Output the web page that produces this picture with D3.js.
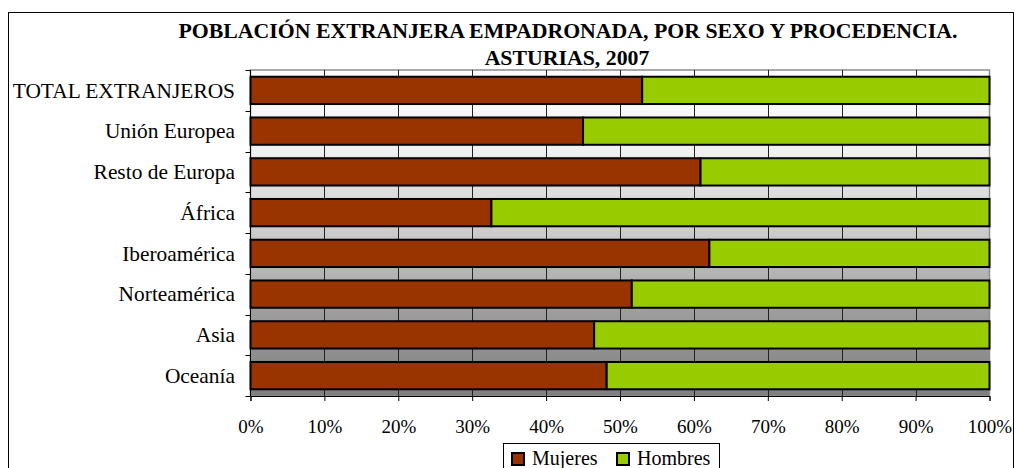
<!DOCTYPE html>
<html>
<head>
<meta charset="utf-8">
<script src="https://cdn.jsdelivr.net/npm/d3@7"></script>
<style>
  body { margin: 0; background: #fff; }
  text { font-family: "Liberation Serif", "Times New Roman", serif; fill: #000; }
</style>
</head>
<body>
<div id="chart"></div>
<script>
// data
var categories = ["TOTAL EXTRANJEROS", "Unión Europea", "Resto de Europa", "África",
  "Iberoamérica", "Norteamérica", "Asia", "Oceanía"];
var mujeres = [53.0, 45.0, 60.9, 32.6, 62.1, 51.6, 46.5, 48.2];
var hombres = [47.0, 55.0, 39.1, 67.4, 37.9, 48.4, 53.5, 51.8];
var seriesNames = ["Mujeres", "Hombres"];
var seriesColors = ["#993300", "#99cc00"];
var xTicks = [0, 0.1, 0.2, 0.3, 0.4, 0.5, 0.6, 0.7, 0.8, 0.9, 1];

// dimensions
var W = 1014, H = 468;
var plot = { left: 250.5, right: 989.5, top: 70, bottom: 396 };

var svg = d3.select("#chart").append("svg")
  .attr("width", W)
  .attr("height", H);

// outer chart border
svg.append("rect")
  .attr("x", 8.5).attr("y", 12.5)
  .attr("width", 1005).attr("height", 470)
  .attr("fill", "#fff").attr("stroke", "#000");

// title
var title = svg.append("text")
  .attr("text-anchor", "middle")
  .attr("font-weight", "bold")
  .attr("font-size", 21.8);
title.append("tspan").attr("x", 568).attr("y", 38)
  .text("POBLACIÓN EXTRANJERA EMPADRONADA, POR SEXO Y PROCEDENCIA.");
title.append("tspan").attr("x", 567).attr("y", 65)
  .text("ASTURIAS, 2007");

// scales
var x = d3.scaleLinear().domain([0, 1]).range([plot.left, plot.right]);
var y = d3.scaleBand().domain(categories)
  .range([plot.top, plot.bottom])
  .paddingInner(0.33).paddingOuter(0.165);
var yEdge = d3.scaleLinear().domain([0, categories.length]).range([plot.top, plot.bottom]);

// background gradient
var grad = svg.append("defs").append("linearGradient")
  .attr("id", "bg").attr("x1", 0).attr("y1", 0).attr("x2", 0).attr("y2", 1);
[[0, "#ffffff"], [0.25, "#f0f0f0"], [0.5, "#cbcbcb"], [0.75, "#9c9c9c"], [1, "#7f7f7f"]]
  .forEach(function (s) {
    grad.append("stop").attr("offset", s[0]).attr("stop-color", s[1]);
  });

svg.append("rect")
  .attr("x", plot.left).attr("y", plot.top)
  .attr("width", plot.right - plot.left).attr("height", plot.bottom - plot.top)
  .attr("fill", "url(#bg)")
  .attr("stroke", "#8c8c8c").attr("stroke-width", 1.5);

// vertical gridlines
svg.append("g").selectAll("line")
  .data(xTicks.slice(1, -1))
  .enter().append("line")
  .attr("x1", function (d) { return Math.round(x(d)) + 0.5; })
  .attr("x2", function (d) { return Math.round(x(d)) + 0.5; })
  .attr("y1", plot.top).attr("y2", plot.bottom)
  .attr("stroke", "#222").attr("stroke-width", 1);

// stacked bars
var rows = categories.map(function (c, i) {
  return { cat: c, Mujeres: mujeres[i] / 100, Hombres: hombres[i] / 100 };
});
var stacked = d3.stack().keys(seriesNames)(rows);

svg.append("g").selectAll("g")
  .data(stacked)
  .enter().append("g")
  .attr("fill", function (d, i) { return seriesColors[i]; })
  .selectAll("rect")
  .data(function (d) { return d; })
  .enter().append("rect")
  .attr("x", function (d) { return x(d[0]); })
  .attr("width", function (d) { return x(d[1]) - x(d[0]); })
  .attr("y", function (d) { return y(d.data.cat); })
  .attr("height", y.bandwidth())
  .attr("stroke", "#000").attr("stroke-width", 2);

// x axis
var xAxis = svg.append("g")
  .attr("transform", "translate(0," + plot.bottom + ")")
  .call(d3.axisBottom(x).tickValues(xTicks).tickFormat(d3.format(".0%"))
    .tickSize(5).tickPadding(19));
xAxis.select(".domain").attr("stroke", "#000");
xAxis.selectAll(".tick line").attr("stroke", "#000");
xAxis.selectAll("text")
  .attr("font-size", 19)
  .attr("font-family", "Liberation Serif, Times New Roman, serif");

// y axis: line, boundary ticks, labels
svg.append("line")
  .attr("x1", plot.left).attr("x2", plot.left)
  .attr("y1", plot.top).attr("y2", plot.bottom)
  .attr("stroke", "#000");
svg.append("g").selectAll("line")
  .data(d3.range(categories.length + 1))
  .enter().append("line")
  .attr("x1", plot.left - 5).attr("x2", plot.left)
  .attr("y1", function (d) { return Math.round(yEdge(d)) + 0.5; })
  .attr("y2", function (d) { return Math.round(yEdge(d)) + 0.5; })
  .attr("stroke", "#000");
svg.append("g").selectAll("text")
  .data(categories)
  .enter().append("text")
  .attr("x", 235)
  .attr("y", function (d) { return y(d) + y.bandwidth() / 2; })
  .attr("dy", "0.34em")
  .attr("text-anchor", "end")
  .attr("font-size", 21.4)
  .text(function (d) { return d; });

// legend
var legend = svg.append("g");
legend.append("rect")
  .attr("x", 503.5).attr("y", 443.5)
  .attr("width", 216).attr("height", 40)
  .attr("fill", "#fff").attr("stroke", "#000");
var legendX = [512, 617];
seriesNames.forEach(function (name, i) {
  legend.append("rect")
    .attr("x", legendX[i]).attr("y", 453)
    .attr("width", 12).attr("height", 12)
    .attr("fill", seriesColors[i])
    .attr("stroke", "#000").attr("stroke-width", 2);
  legend.append("text")
    .attr("x", legendX[i] + 20).attr("y", 465)
    .attr("font-size", 20)
    .text(name);
});
</script>
</body>
</html>
